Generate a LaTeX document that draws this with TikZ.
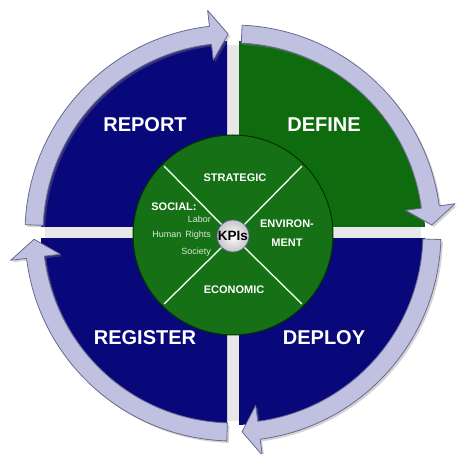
\documentclass[tikz,border=0pt]{standalone}
\usepackage{fontspec}
\setmainfont{Liberation Sans}
\usetikzlibrary{shadows}

\definecolor{navyq}{RGB}{8,8,122}
\definecolor{greenq}{RGB}{14,108,14}
\definecolor{diskgreen}{RGB}{22,112,22}
\definecolor{ringfill}{RGB}{192,192,224}
\definecolor{ringedge}{RGB}{105,105,145}
\definecolor{smalltext}{RGB}{215,235,215}

\begin{document}
\begin{tikzpicture}[
ring/.style={fill=ringfill, draw=ringedge, line width=0.8pt, line join=round,
  drop shadow={shadow xshift=2pt, shadow yshift=-2pt, opacity=.35}},
title/.style={text=white, font=\fontsize{20}{24}\selectfont\bfseries},
kpitext/.style={text=white, font=\fontsize{11}{19}\selectfont\bfseries, align=center},
small/.style={text=smalltext, font=\fontsize{9}{11}\selectfont, anchor=east, inner sep=0pt},
disk/.style={circle, fill=diskgreen, draw=green!20!black, line width=1pt, minimum size=200pt, inner sep=0pt},
ball/.style={circle, inner color=white, outer color=gray!45, draw=blue!30!gray, line width=0.6pt,
  minimum size=32pt, inner sep=0pt, font=\fontsize{13.5}{15}\selectfont\bfseries},
spoke/.style={draw=white!90!green, line width=1.4pt, shorten >=3pt}
]
\useasboundingbox (-233pt,-221pt) rectangle (227pt,233pt);

%Quadrants
\begin{scope}
\clip (0,0) circle (188pt);
\fill[gray!18] (-200pt,-6pt) rectangle (200pt,6pt);
\fill[gray!18] (-6pt,-200pt) rectangle (6pt,200pt);
\end{scope}
\begin{scope}
\clip (6pt,6pt) rectangle (230pt,230pt);
\fill[greenq] (0,0) circle (192pt);
\end{scope}
\begin{scope}
\clip (-6pt,6pt) rectangle (-230pt,230pt);
\fill[navyq] (0,0) circle (192pt);
\end{scope}
\begin{scope}
\clip (6pt,-6pt) rectangle (230pt,-230pt);
\fill[navyq] (0,0) circle (192pt);
\end{scope}
\begin{scope}
\clip (-6pt,-6pt) rectangle (-230pt,-230pt);
\fill[navyq] (0,0) circle (192pt);
\end{scope}

%Ring arrows
\path[ring] (87.5:190pt) arc[start angle=87.5, end angle=7.5, radius=190pt]
  -- (7.5:174pt) -- (2.3:199pt) -- (7.5:224pt) -- (7.5:208pt)
  arc[start angle=7.5, end angle=87.5, radius=208pt] -- cycle;
\path[ring] (-1.8:190pt) arc[start angle=-1.8, end angle=-82.5, radius=190pt]
  -- (-82.5:174pt) -- (-87.4:199pt) -- (-82.5:224pt) -- (-82.5:208pt)
  arc[start angle=-82.5, end angle=-1.8, radius=208pt] -- cycle;
\path[ring] (268.3:190pt) arc[start angle=268.3, end angle=187, radius=190pt]
  -- (187:174pt) -- (181.8:199pt) -- (187:224pt) -- (187:208pt)
  arc[start angle=187, end angle=268.3, radius=208pt] -- cycle;
\path[ring] (177.7:190pt) arc[start angle=177.7, end angle=96.5, radius=190pt]
  -- (96.5:174pt) -- (91.4:199pt) -- (96.5:224pt) -- (96.5:208pt)
  arc[start angle=96.5, end angle=177.7, radius=208pt] -- cycle;

%Nodes
\node[title] (report)   at (-88pt,108pt)  {REPORT};
\node[title] (define)   at (91pt,108pt)   {DEFINE};
\node[title] (register) at (-88pt,-105pt) {REGISTER};
\node[title] (deploy)   at (91pt,-105pt)  {DEPLOY};

\node[disk] (kpiring) at (0pt,-2pt) {};
\node[ball] (kpi) at (0pt,-3pt) {KPIs};

\node[kpitext] (strategic)   at (2pt,55pt)   {STRATEGIC};
\node[kpitext] (environment) at (54pt,0pt)   {ENVIRON-\\MENT};
\node[kpitext] (economic)    at (1pt,-57pt)  {ECONOMIC};
\node[kpitext] (social)      at (-59pt,26pt) {SOCIAL:};
\node[small]   (labor)       at (-22pt,14pt) {Labor};
\node[small]   (rights)      at (-22pt,-2pt) {Human\hspace{4pt}Rights};
\node[small]   (society)     at (-22pt,-19pt) {Society};

%Lines
\draw[spoke] (kpi.45)  -- (kpiring.45);
\draw[spoke] (kpi.135) -- (kpiring.135);
\draw[spoke] (kpi.225) -- (kpiring.225);
\draw[spoke] (kpi.315) -- (kpiring.315);
\end{tikzpicture}
\end{document}
